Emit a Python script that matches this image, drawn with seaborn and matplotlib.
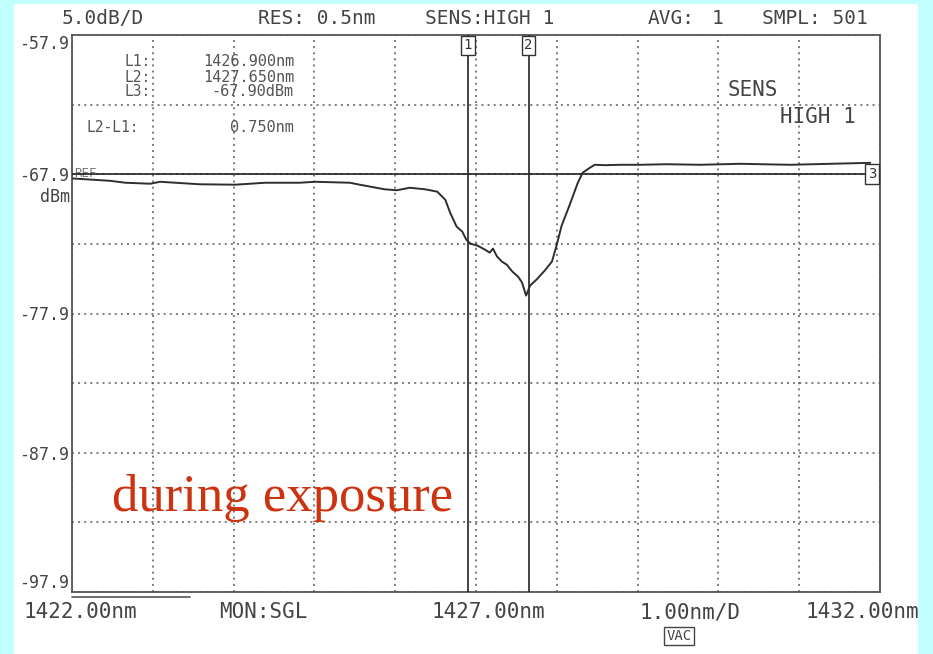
import matplotlib
matplotlib.use("Agg")
import matplotlib.pyplot as plt
import matplotlib.patches as mpatches
import numpy as np
import pandas as pd
import seaborn as sns

# Optical spectrum trace (wavelength in nm, power in dBm)
wavelength_nm = [1422.00, 1422.47, 1422.66, 1422.97, 1423.09, 1423.58, 1424.02, 1424.39,
                 1424.82, 1425.01, 1425.44, 1425.56, 1425.87, 1426.02, 1426.18, 1426.37,
                 1426.52, 1426.62, 1426.68, 1426.76, 1426.83, 1426.88, 1426.93, 1427.02,
                 1427.11, 1427.17, 1427.21, 1427.26, 1427.32, 1427.38, 1427.45, 1427.52,
                 1427.57, 1427.62, 1427.67, 1427.75, 1427.85, 1427.94, 1427.99, 1428.06,
                 1428.16, 1428.26, 1428.32, 1428.41, 1428.47, 1428.60, 1428.78, 1429.03,
                 1429.36, 1429.77, 1430.27, 1430.89, 1431.38, 1431.88]
power_dbm = [-68.20, -68.37, -68.51, -68.58, -68.44, -68.62, -68.65, -68.51,
             -68.51, -68.44, -68.51, -68.65, -68.98, -69.05, -68.87, -68.98,
             -69.15, -69.73, -70.66, -71.66, -72.02, -72.60, -72.88, -73.03,
             -73.31, -73.53, -73.24, -73.81, -74.17, -74.39, -74.89, -75.25,
             -75.68, -76.61, -75.89, -75.46, -74.82, -74.17, -73.17, -71.59,
             -70.09, -68.51, -67.79, -67.43, -67.22, -67.25, -67.22, -67.22,
             -67.18, -67.22, -67.15, -67.22, -67.15, -67.08]

# Markers
marker_L1 = 1426.900
marker_L2 = 1427.650
marker_L3 = -67.90

x_min, x_max = 1422.0, 1432.0
y_min, y_max = -97.9, -57.9
y_labels = ["-57.9", "", "-67.9", "", "-77.9", "", "-87.9", "", "-97.9"]

header_items = [("5.0dB/D", 62), ("RES: 0.5nm", 258), ("SENS:HIGH 1", 425),
                ("AVG:", 648), ("1", 712), ("SMPL: 501", 762)]
footer_items = [("1422.00nm", 24), ("MON:SGL", 219), ("1427.00nm", 431),
                ("1.00nm/D", 640), ("1432.00nm", 805)]

sns.set_theme(style="white")
plt.rcParams["font.family"] = ["DejaVu Sans Mono", "DejaVu Sans"]

W, H = 933, 654
fig = plt.figure(figsize=(W / 100, H / 100), dpi=100, facecolor="#c2ffff")

def fx(px):
    return px / W

def fy(py):
    return 1 - py / H

# white page behind everything
page = mpatches.Rectangle((fx(14), 0), fx(918) - fx(14), fy(4),
                          transform=fig.transFigure, facecolor="white",
                          edgecolor="none", zorder=-10)
fig.add_artist(page)

left, right, top, bottom = 72, 880, 35, 592
ax = fig.add_axes([fx(left), fy(bottom), fx(right) - fx(left), fy(top) - fy(bottom)])
ax.set_zorder(2)
ax.set_facecolor("white")

df = pd.DataFrame({"wavelength": wavelength_nm, "power": power_dbm})
sns.lineplot(data=df, x="wavelength", y="power", ax=ax, color="#2e2e2e",
             linewidth=1.4, zorder=4)

ax.set_xlim(x_min, x_max)
ax.set_ylim(y_min, y_max)
ax.set_xlabel("")
ax.set_ylabel("")

ax.set_xticks(np.arange(1422, 1433, 1))
ax.set_xticklabels([])
ax.set_yticks([y_max - 5 * i for i in range(9)])
ax.set_yticklabels(y_labels)
ax.tick_params(axis="both", length=0, pad=2)
ax.tick_params(axis="y", labelsize=12, labelcolor="#444444")
ylabs = ax.get_yticklabels()
ylabs[0].set_va("top")
ylabs[-1].set_va("bottom")

ax.grid(True, color="#5a5a5a", linewidth=1.1, linestyle=(0, (1.3, 2.7)))
for s in ax.spines.values():
    s.set_color("#555555")
    s.set_linewidth(1.3)

# marker lines
ax.axvline(marker_L1, color="#222222", linewidth=1.2, zorder=3)
ax.axvline(marker_L2, color="#222222", linewidth=1.2, zorder=3)
ax.axhline(marker_L3, color="#222222", linewidth=1.2, zorder=3)

box = dict(boxstyle="square,pad=0.2", facecolor="white", edgecolor="#333333", linewidth=1)
ax.text(marker_L1, y_max - 0.25, "1", ha="center", va="top", fontsize=10, color="#333333",
        bbox=box, zorder=5)
ax.text(marker_L2, y_max - 0.25, "2", ha="center", va="top", fontsize=10, color="#333333",
        bbox=box, zorder=5)
ax.text(x_max - 0.1, marker_L3, "3", ha="center", va="center", fontsize=10, color="#333333",
        bbox=box, zorder=5)
ax.text(x_min + 0.03, marker_L3 + 0.05, "REF", ha="left", va="center", fontsize=9,
        color="#777777", zorder=2)

# marker readout (drawn above the axes)
ro_col = "#555555"
ro_fs = 10.5
readout = [
    (125, 62, "L1:", 294, f"{marker_L1:.3f}nm"),
    (125, 77, "L2:", 294, f"{marker_L2:.3f}nm"),
    (125, 92, "L3:", 294, f"{marker_L3:.2f}dBm"),
    (86, 128, "L2-L1:", 294, f"{marker_L2 - marker_L1:.3f}nm"),
]
for lx, py, lab, vx, val in readout:
    fig.text(fx(lx), fy(py), lab, ha="left", va="center", fontsize=ro_fs, color=ro_col,
             zorder=5)
    fig.text(fx(vx), fy(py), val, ha="right", va="center", fontsize=ro_fs + 0.5,
             color=ro_col, zorder=5)

# header and footer annotations
for txt, px in header_items:
    fig.text(fx(px), fy(18), txt, ha="left", va="center", fontsize=14, color="#444444")
for txt, px in footer_items:
    fig.text(fx(px), fy(612), txt, ha="left", va="center", fontsize=15, color="#444444")
fig.text(fx(679), fy(636), "VAC", ha="center", va="center", fontsize=10, color="#444444",
         bbox=dict(boxstyle="square,pad=0.15", facecolor="white", edgecolor="#444444",
                   linewidth=1))

fig.text(fx(70), fy(197), "dBm", ha="right", va="center", fontsize=12, color="#444444")
fig.text(fx(728), fy(90), "SENS", ha="left", va="center", fontsize=15, color="#444444",
         zorder=5)
fig.text(fx(780), fy(117), "HIGH 1", ha="left", va="center", fontsize=15, color="#444444",
         zorder=5)

# short underline below the lower-left corner
fig.add_artist(plt.Line2D([fx(72), fx(190)], [fy(597), fy(597)], color="#555555",
                          linewidth=1.2))

fig.text(fx(112), fy(498), "during exposure", ha="left", va="center", fontsize=38,
         color="#cc3311", family="Liberation Serif", zorder=5)

fig.savefig("out.png", dpi=100, facecolor=fig.get_facecolor())
